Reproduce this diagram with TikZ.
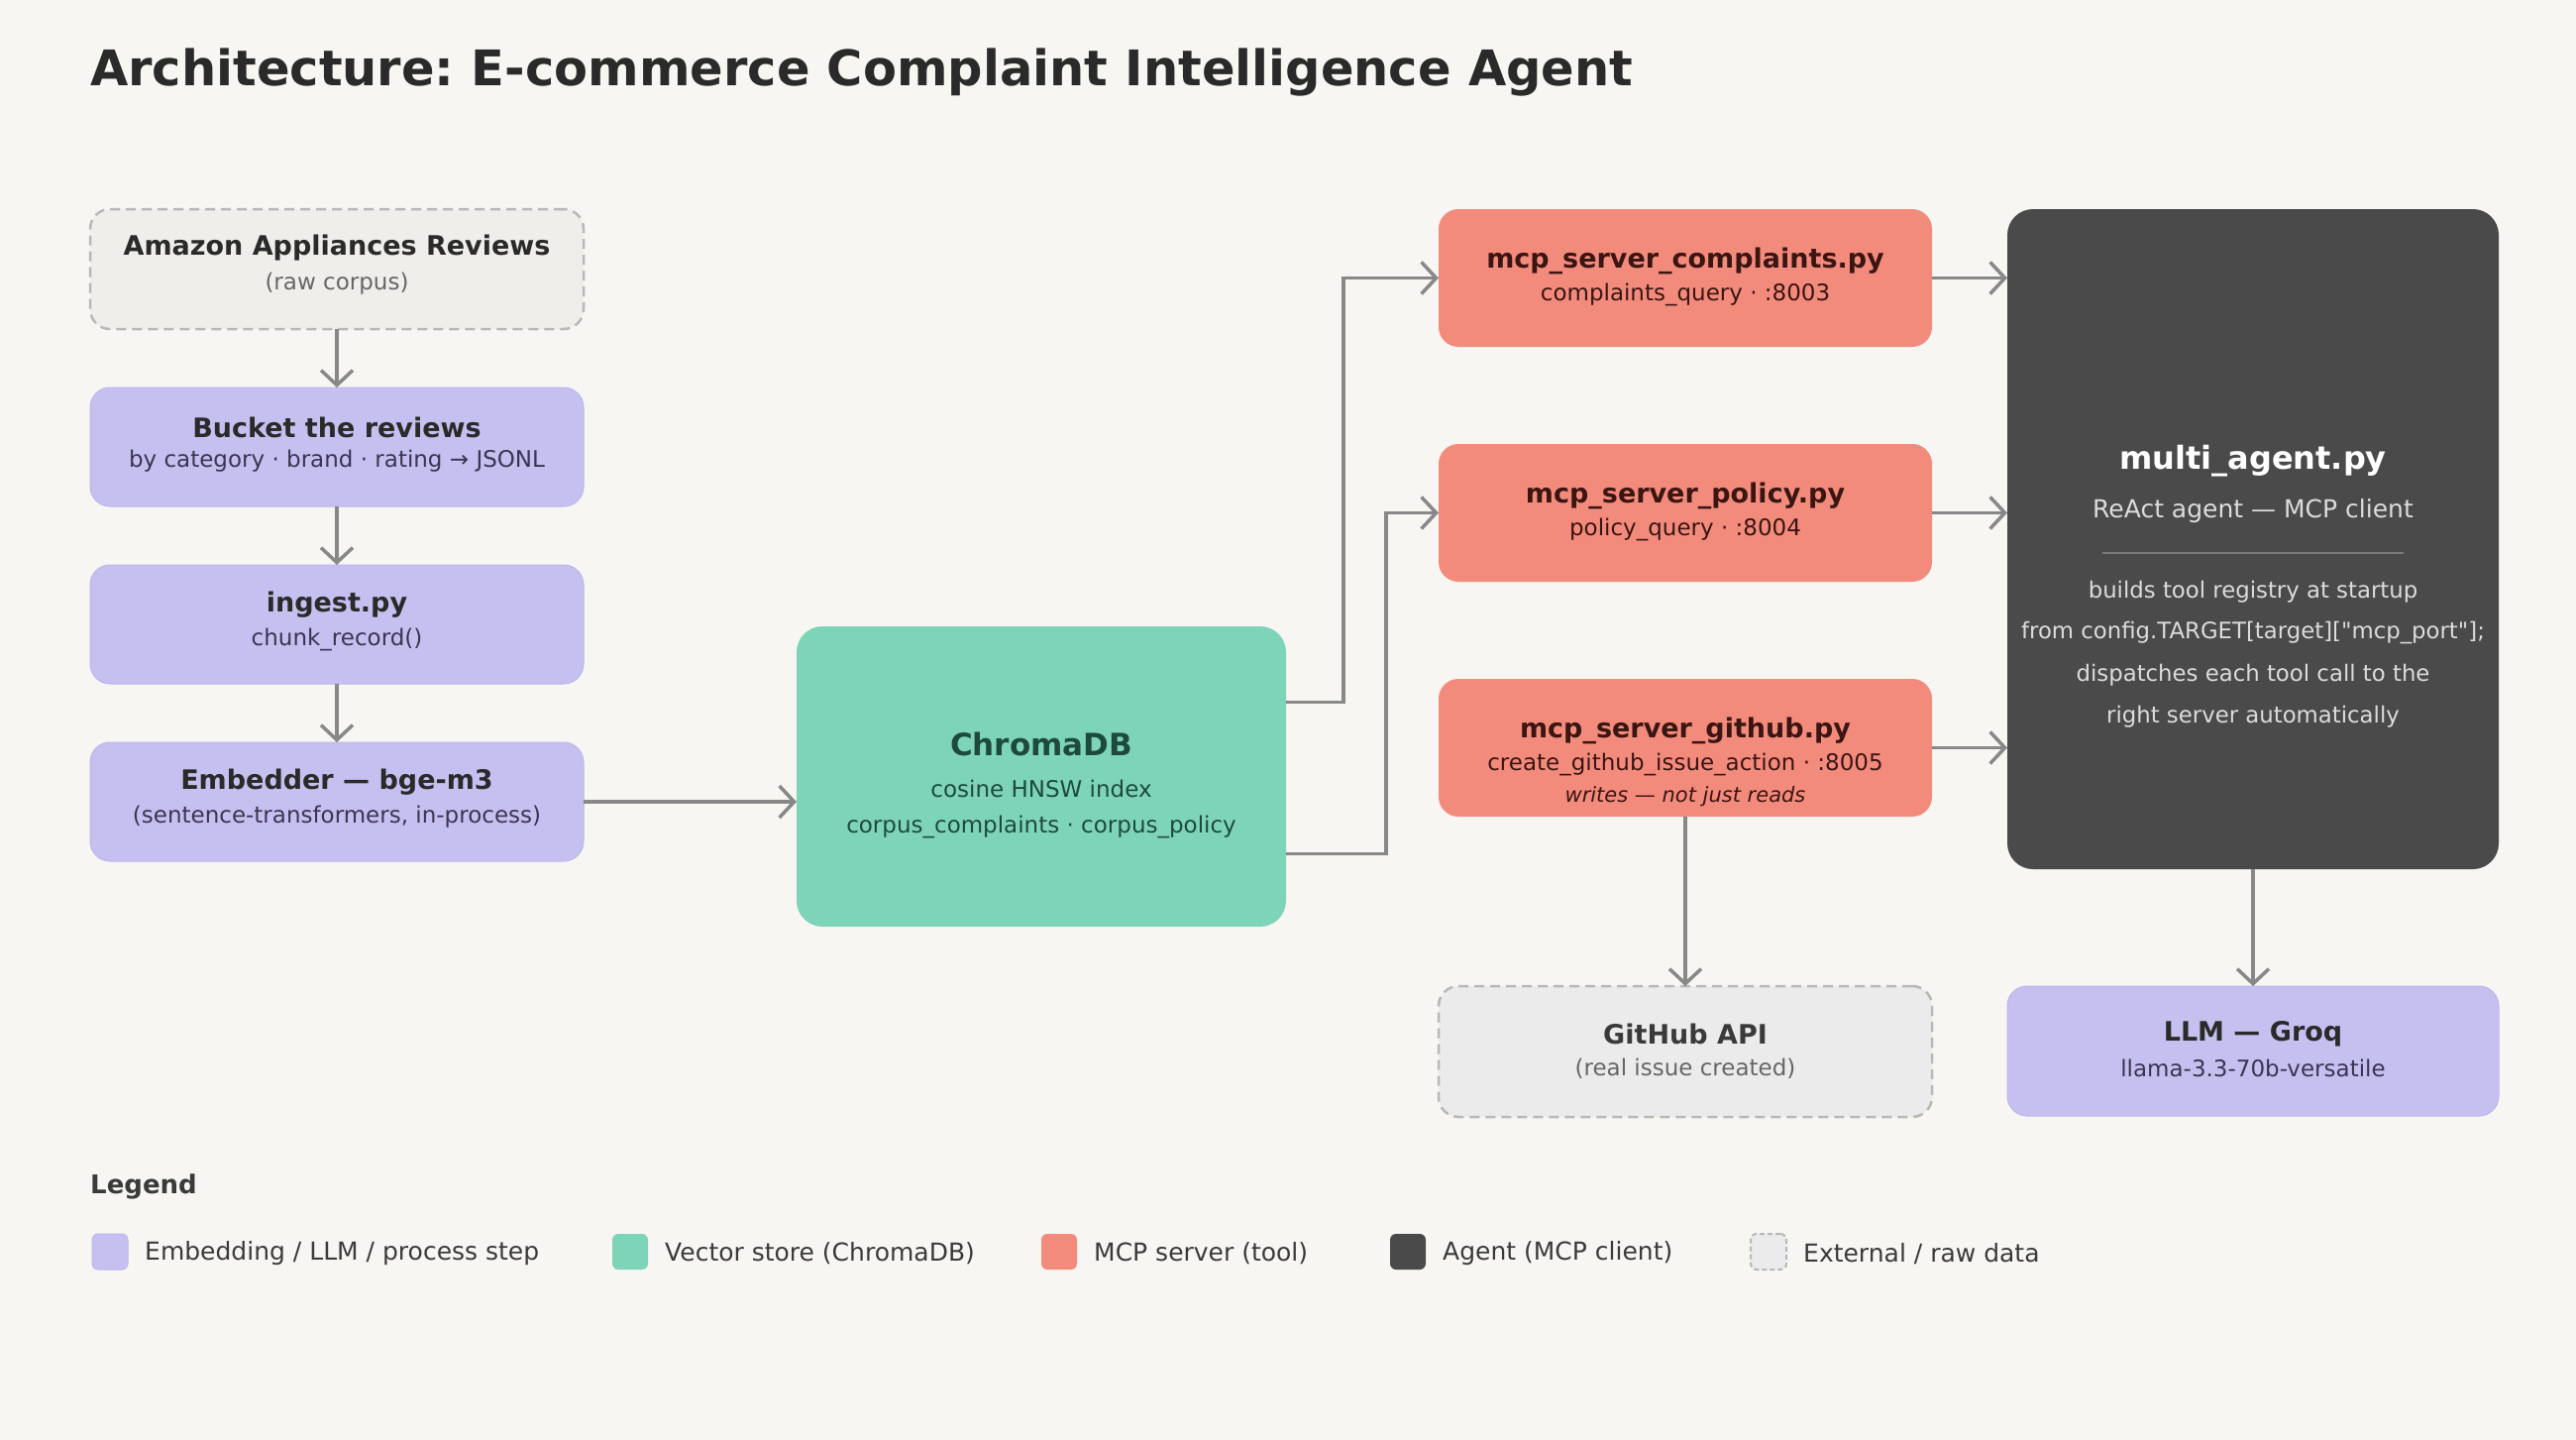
\documentclass[tikz,border=0pt]{standalone}
\usepackage{fontspec}
\setmainfont{DejaVu Sans}
\newfontfamily\plainfont{DejaVu Sans}
\frenchspacing
\usetikzlibrary{arrows.meta}
\definecolor{bg}{HTML}{F7F6F2}
\definecolor{purp}{HTML}{C6C0F0}
\definecolor{purpline}{HTML}{BDB6EE}
\definecolor{grn}{HTML}{7ED4B9}
\definecolor{salm}{HTML}{F38B7D}
\definecolor{dark}{HTML}{4A4A4A}
\definecolor{rawfill}{HTML}{F0EEEA}
\definecolor{extfill}{HTML}{EBEBEB}
\definecolor{dashc}{HTML}{B8B8B8}
\definecolor{arr}{HTML}{888888}
\definecolor{ttl}{HTML}{2A2A2A}
\definecolor{purptxt}{HTML}{3A3552}
\definecolor{grntxt}{HTML}{1D4A3C}
\definecolor{salmtxt}{HTML}{3A1511}
\definecolor{agtxt}{HTML}{DCDCDC}
\definecolor{sep}{HTML}{7A7A7A}
\definecolor{exttxt}{HTML}{3A3A3A}
\definecolor{extsub}{HTML}{666666}
\tikzset{
  box/.style={rounded corners=20pt, inner sep=0pt, outer sep=0pt, minimum width=498pt},
  procbox/.style={box, fill=purp, draw=purpline, line width=1pt},
  rawbox/.style={box, fill=rawfill, draw=dashc, line width=2.5pt, dash pattern=on 10pt off 6pt},
  extbox/.style={box, fill=extfill, draw=dashc, line width=2.5pt, dash pattern=on 10pt off 6pt},
  mcpbox/.style={box, fill=salm},
  conn/.style={draw=arr, line width=3.5pt, -{Straight Barb[length=15pt,width=32pt,line width=3.5pt]}},
  tbold/.style={font=\fontsize{27}{31}\selectfont\bfseries, text=ttl, inner sep=0pt},
  tsub/.style={font=\fontsize{23}{27}\selectfont, text=purptxt, inner sep=0pt},
  legsq/.style={rounded corners=6pt, minimum width=36pt, minimum height=36pt, inner sep=0pt},
  legtxt/.style={font=\fontsize{25}{30}\selectfont, text=exttxt, anchor=west, inner sep=0pt},
}
\begin{document}
\begin{tikzpicture}[x=1pt,y=-1pt]
\fill[bg] (0,0) rectangle (2600,1453);
\useasboundingbox (0,0) rectangle (2600,1453);

\node[anchor=west, inner sep=0pt, font=\fontsize{49.5}{58}\selectfont\bfseries, text=ttl] (title) at (91,73) {Architecture: E-commerce Complaint Intelligence Agent};

% left column
\node[rawbox, minimum height=121pt] (raw) at (340,271.5) {};
\node[tbold] (rawt) at (340,250) {Amazon Appliances Reviews};
\node[tsub, text=extsub] (raws) at (340,286) {(raw corpus)};

\node[procbox, minimum height=120pt] (bucket) at (340,451) {};
\node[tbold] (buckt) at (340,431) {Bucket the reviews};
\node[tsub] (bucks) at (340,465) {by category · brand · rating → JSONL};

\node[procbox, minimum height=120pt] (ingest) at (340,630) {};
\node[tbold] (ingt) at (340,610) {ingest.py};
\node[tsub] (ings) at (340,645) {chunk\_record()};

\node[procbox, minimum height=120pt] (emb) at (340,809) {};
\node[tbold] (embt) at (340,789) {Embedder — bge-m3};
\node[tsub] (embs) at (340,824) {(sentence-transformers, in-process)};

% chroma
\node[box, fill=grn, rounded corners=26pt, minimum width=494pt, minimum height=303pt] (chroma) at (1051,783.5) {};
\node[tbold, font=\fontsize{31}{36}\selectfont\bfseries, text=grntxt] (chromat) at (1051,751) {ChromaDB};
\node[tsub, font=\fontsize{23}{27}\selectfont, text=grntxt] (chromas1) at (1051,796) {cosine HNSW index};
\node[tsub, font=\fontsize{23}{27}\selectfont, text=grntxt] (chromas2) at (1051,834) {corpus\_complaints · corpus\_policy};

% mcp servers
\node[mcpbox, minimum height=139pt] (comp) at (1701,280.5) {};
\node[tbold, text=salmtxt] (compt) at (1701,263) {mcp\_server\_complaints.py};
\node[tsub, text=salmtxt] (comps) at (1701,297) {complaints\_query · :8003};

\node[mcpbox, minimum height=139pt] (pol) at (1701,517.5) {};
\node[tbold, text=salmtxt] (polt) at (1701,500) {mcp\_server\_policy.py};
\node[tsub, text=salmtxt] (pols) at (1701,534) {policy\_query · :8004};

\node[mcpbox, minimum height=139pt] (gh) at (1701,754.5) {};
\node[tbold, text=salmtxt] (ght) at (1701,737) {mcp\_server\_github.py};
\node[tsub, text=salmtxt] (ghs) at (1701,771) {create\_github\_issue\_action · :8005};
\node[tsub, font=\fontsize{21}{25}\selectfont\itshape, text=salmtxt] (ghi) at (1701,804) {writes — not just reads};

% agent
\node[box, fill=dark, rounded corners=26pt, minimum width=496pt, minimum height=666pt] (agent) at (2274,544) {};
\node[tbold, font=\fontsize{32}{38}\selectfont\bfseries, text=white] (agt) at (2274,465) {multi\_agent.py};
\node[tsub, font=\fontsize{25}{30}\selectfont, text=agtxt] (ags) at (2274,516) {ReAct agent — MCP client};
\coordinate (sepl) at (2122,558);
\coordinate (sepr) at (2426,558);
\draw[sep, line width=1.5pt] (sepl) -- (sepr);
\node[tsub, font=\fontsize{22.8}{27}\selectfont, text=agtxt] (agb1) at (2274,597) {builds tool registry at startup};
\node[tsub, font=\plainfont\fontsize{22.8}{27}\selectfont, text=agtxt] (agb2) at (2274,639) {from config.TARGET[target]["mcp\_port"];};
\node[tsub, font=\fontsize{22.8}{27}\selectfont, text=agtxt] (agb3) at (2274,681) {dispatches each tool call to the};
\node[tsub, font=\fontsize{22.8}{27}\selectfont, text=agtxt] (agb4) at (2274,723) {right server automatically};

% bottom
\node[extbox, minimum height=132pt] (ghapi) at (1701,1061) {};
\node[tbold, text=exttxt] (ghapit) at (1701,1043) {GitHub API};
\node[tsub, text=extsub] (ghapis) at (1701,1078) {(real issue created)};

\node[procbox, minimum height=131pt, minimum width=496pt] (llm) at (2274,1060.5) {};
\node[tbold] (llmt) at (2274,1043) {LLM — Groq};
\node[tsub] (llms) at (2274,1078) {llama-3.3-70b-versatile};

% connectors
\draw[conn] (raw) -- (bucket);
\draw[conn] (bucket) -- (ingest);
\draw[conn] (ingest) -- (emb);
\draw[conn] (emb.east) -- (emb.east -| chroma.west);
\draw[conn] ([yshift=75pt]chroma.east) -- ++(58,0) |- (comp.west);
\draw[conn] ([yshift=-78pt]chroma.east) -- ++(101,0) |- (pol.west);
\draw[conn] (comp.east) -- (comp.east -| agent.west);
\draw[conn] (pol.east) -- (pol.east -| agent.west);
\draw[conn] (gh.east) -- (gh.east -| agent.west);
\draw[conn] (gh.south) -- (ghapi.north);
\draw[conn] (agent.south) -- (llm.north);

% legend
\node[anchor=west, inner sep=0pt, font=\fontsize{26}{30}\selectfont\bfseries, text=exttxt] (legt) at (91,1197) {Legend};
\node[legsq, fill=purp, draw=purpline, line width=1pt] (lg1) at (111,1263) {};
\node[legtxt] (lt1) at (146,1265) {Embedding / LLM / process step};
\node[legsq, fill=grn] (lg2) at (636,1263) {};
\node[legtxt] (lt2) at (671,1265) {Vector store (ChromaDB)};
\node[legsq, fill=salm] (lg3) at (1069,1263) {};
\node[legtxt] (lt3) at (1104,1265) {MCP server (tool)};
\node[legsq, fill=dark] (lg4) at (1421,1263) {};
\node[legtxt] (lt4) at (1456,1265) {Agent (MCP client)};
\node[legsq, fill=extfill, draw=dashc, line width=2pt, dash pattern=on 5pt off 3pt] (lg5) at (1785,1263) {};
\node[legtxt] (lt5) at (1820,1265) {External / raw data};
\end{tikzpicture}
\end{document}
